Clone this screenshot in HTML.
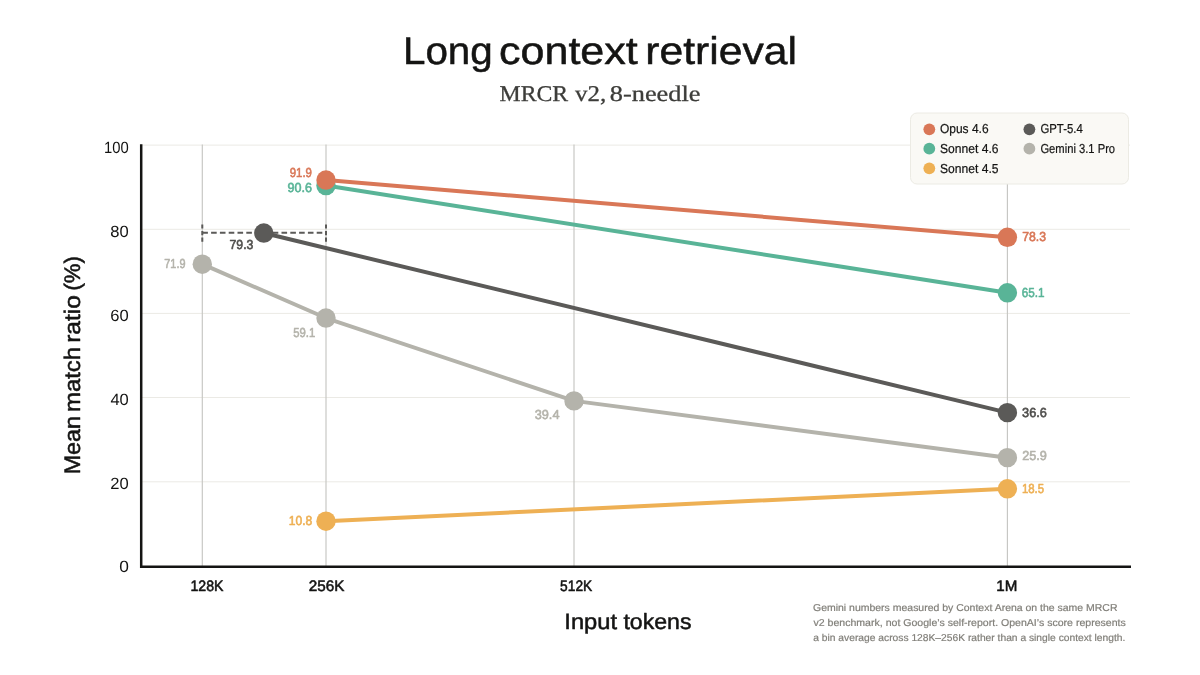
<!DOCTYPE html>
<html lang="en">
<head>
<meta charset="utf-8">
<title>Long context retrieval</title>
<style>
html,body{margin:0;padding:0;background:#fff;}
body{width:1200px;height:675px;overflow:hidden;position:relative;font-family:"Liberation Sans",sans-serif;}
svg{position:absolute;left:0;top:0;display:block;}
text{font-family:"Liberation Sans",sans-serif;text-rendering:geometricPrecision;}
text.serif{font-family:"Liberation Serif",serif;}
</style>
</head>
<body>
<svg width="1200" height="675" viewBox="0 0 1200 675">
  <rect width="1200" height="675" fill="#ffffff"/>
  <!-- grid -->
  <g stroke="#ebeae5" stroke-width="1" fill="none">
    <line x1="141" y1="145.1" x2="1130" y2="145.1"/>
    <line x1="141" y1="229.3" x2="1130" y2="229.3"/>
    <line x1="141" y1="313.4" x2="1130" y2="313.4"/>
    <line x1="141" y1="397.5" x2="1130" y2="397.5"/>
    <line x1="141" y1="481.8" x2="1130" y2="481.8"/>
  </g>
  <g stroke="#c6c6c3" stroke-width="1.15" fill="none">
    <line x1="202.3" y1="144.6" x2="202.3" y2="566"/>
    <line x1="326.0" y1="144.6" x2="326.0" y2="566"/>
    <line x1="574.0" y1="144.6" x2="574.0" y2="566"/>
    <line x1="1007.4" y1="144.6" x2="1007.4" y2="566"/>
  </g>
  <!-- axes -->
  <path d="M141.2 144.3 V566.8 H1131" fill="none" stroke="#141413" stroke-width="2.5"/>
  <!-- series lines -->
  <g fill="none" stroke-width="4" stroke-linecap="round" stroke-linejoin="round">
    <polyline points="326.0,521.18 1007.4,488.79" stroke="#eeb054"/>
    <polyline points="202.3,264.19 326.0,318.03 574.0,400.88 1007.4,457.66" stroke="#b4b3ab"/>
    <polyline points="263.8,233.06 1007.4,412.66" stroke="#5b5a58"/>
    <polyline points="326.0,185.54 1007.4,292.79" stroke="#59b497"/>
    <polyline points="326.0,180.07 1007.4,237.27" stroke="#d97757"/>
  </g>
  <!-- dashed bin range -->
  <g stroke="#5b5a58" stroke-width="2" fill="none">
    <line x1="202.3" y1="232.7" x2="326.0" y2="232.7" stroke-dasharray="5.6 3.2"/>
    <line x1="202.3" y1="224.4" x2="202.3" y2="242" stroke-dasharray="4.2 2.4"/>
    <line x1="326.0" y1="224.4" x2="326.0" y2="242" stroke-dasharray="4.2 2.4"/>
  </g>
  <!-- points -->
  <g>
    <circle cx="326.0" cy="521.18" r="9.7" fill="#eeb054"/>
    <circle cx="1007.4" cy="488.79" r="9.7" fill="#eeb054"/>
    <circle cx="202.3" cy="264.19" r="9.7" fill="#b4b3ab"/>
    <circle cx="326.0" cy="318.03" r="9.7" fill="#b4b3ab"/>
    <circle cx="574.0" cy="400.88" r="9.7" fill="#b4b3ab"/>
    <circle cx="1007.4" cy="457.66" r="9.7" fill="#b4b3ab"/>
    <circle cx="263.8" cy="233.06" r="9.7" fill="#5b5a58"/>
    <circle cx="1007.4" cy="412.66" r="9.7" fill="#5b5a58"/>
    <circle cx="326.0" cy="185.54" r="9.7" fill="#59b497"/>
    <circle cx="1007.4" cy="292.79" r="9.7" fill="#59b497"/>
    <circle cx="326.0" cy="180.07" r="9.7" fill="#d97757"/>
    <circle cx="1007.4" cy="237.27" r="9.7" fill="#d97757"/>
  </g>
  <!-- legend -->
  <rect x="910.5" y="113" width="218" height="71" rx="6.5" ry="6.5" fill="#faf9f5" stroke="#ecebe4" stroke-width="1"/>
  <g>
    <circle cx="929.3" cy="129.3" r="5.9" fill="#d97757"/>
    <circle cx="929.3" cy="148.7" r="5.9" fill="#59b497"/>
    <circle cx="929.3" cy="168.3" r="5.9" fill="#eeb054"/>
    <circle cx="1029.4" cy="129.3" r="5.9" fill="#5b5a58"/>
    <circle cx="1029.4" cy="148.7" r="5.9" fill="#b4b3ab"/>
  </g>
  <!-- text -->
  <text id="t1" x="402.93" y="64" font-size="38.5" fill="#141413" stroke="#141413" stroke-width="0.5" stroke-linejoin="round" textLength="89.86" lengthAdjust="spacingAndGlyphs">Long</text>
  <text id="t2" x="498.98" y="64" font-size="38.5" fill="#141413" stroke="#141413" stroke-width="0.5" stroke-linejoin="round" textLength="138.82" lengthAdjust="spacingAndGlyphs">context</text>
  <text id="t3" x="645.27" y="64" font-size="38.5" fill="#141413" stroke="#141413" stroke-width="0.5" stroke-linejoin="round" textLength="151.72" lengthAdjust="spacingAndGlyphs">retrieval</text>
  <text id="s1" x="499.53" y="101" font-size="22.5" fill="#3d3d3a" stroke="#3d3d3a" stroke-width="0.3" stroke-linejoin="round" class="serif" textLength="68.72" lengthAdjust="spacingAndGlyphs">MRCR</text>
  <text id="s2" x="575.04" y="101" font-size="22.5" fill="#3d3d3a" stroke="#3d3d3a" stroke-width="0.3" stroke-linejoin="round" class="serif" textLength="31.14" lengthAdjust="spacingAndGlyphs">v2,</text>
  <text id="s3" x="609.77" y="101" font-size="22.5" fill="#3d3d3a" stroke="#3d3d3a" stroke-width="0.3" stroke-linejoin="round" class="serif" textLength="90.71" lengthAdjust="spacingAndGlyphs">8-needle</text>
  <text id="y100" x="104.12" y="153" font-size="16.3" fill="#141413" textLength="24.70" lengthAdjust="spacingAndGlyphs">100</text>
  <text id="y80" x="110.38" y="237" font-size="16.3" fill="#141413" textLength="18.43" lengthAdjust="spacingAndGlyphs">80</text>
  <text id="y60" x="110.39" y="321" font-size="16.3" fill="#141413" textLength="18.43" lengthAdjust="spacingAndGlyphs">60</text>
  <text id="y40" x="110.44" y="405" font-size="16.3" fill="#141413" textLength="18.37" lengthAdjust="spacingAndGlyphs">40</text>
  <text id="y20" x="110.39" y="489" font-size="16.3" fill="#141413" textLength="18.43" lengthAdjust="spacingAndGlyphs">20</text>
  <text id="y0" x="119.18" y="572" font-size="16.3" fill="#141413" textLength="9.65" lengthAdjust="spacingAndGlyphs">0</text>
  <text id="x128" x="190.45" y="591" font-size="15.2" fill="#141413" stroke="#141413" stroke-width="0.55" stroke-linejoin="round" textLength="33.11" lengthAdjust="spacingAndGlyphs">128K</text>
  <text id="x256" x="308.85" y="591" font-size="15.2" fill="#141413" stroke="#141413" stroke-width="0.55" stroke-linejoin="round" textLength="35.65" lengthAdjust="spacingAndGlyphs">256K</text>
  <text id="x512" x="560.06" y="591" font-size="15.2" fill="#141413" stroke="#141413" stroke-width="0.55" stroke-linejoin="round" textLength="32.20" lengthAdjust="spacingAndGlyphs">512K</text>
  <text id="x1m" x="996.36" y="591" font-size="15.2" fill="#141413" stroke="#141413" stroke-width="0.55" stroke-linejoin="round" textLength="21.07" lengthAdjust="spacingAndGlyphs">1M</text>
  <text id="ax1" x="564.29" y="629" font-size="22" fill="#141413" stroke="#141413" stroke-width="0.5" stroke-linejoin="round" textLength="52.81" lengthAdjust="spacingAndGlyphs">Input</text>
  <text id="ax2" x="623.45" y="629" font-size="22" fill="#141413" stroke="#141413" stroke-width="0.5" stroke-linejoin="round" textLength="67.99" lengthAdjust="spacingAndGlyphs">tokens</text>
  <text id="v919" x="289.76" y="177" font-size="13" fill="#d97757" stroke="#d97757" stroke-width="0.6" stroke-linejoin="round" textLength="22.19" lengthAdjust="spacingAndGlyphs">91.9</text>
  <text id="v906" x="287.46" y="192" font-size="13" fill="#59b497" stroke="#59b497" stroke-width="0.6" stroke-linejoin="round" textLength="24.49" lengthAdjust="spacingAndGlyphs">90.6</text>
  <text id="v783" x="1022.26" y="241" font-size="13" fill="#d97757" stroke="#d97757" stroke-width="0.6" stroke-linejoin="round" textLength="23.84" lengthAdjust="spacingAndGlyphs">78.3</text>
  <text id="v651" x="1021.80" y="297" font-size="13" fill="#59b497" stroke="#59b497" stroke-width="0.6" stroke-linejoin="round" textLength="22.80" lengthAdjust="spacingAndGlyphs">65.1</text>
  <text id="v366" x="1022.05" y="417" font-size="13" fill="#4f4e4c" stroke="#4f4e4c" stroke-width="0.6" stroke-linejoin="round" textLength="24.84" lengthAdjust="spacingAndGlyphs">36.6</text>
  <text id="v259" x="1022.15" y="460" font-size="13" fill="#b4b3ab" stroke="#b4b3ab" stroke-width="0.6" stroke-linejoin="round" textLength="24.76" lengthAdjust="spacingAndGlyphs">25.9</text>
  <text id="v185" x="1021.90" y="493" font-size="13" fill="#eeb054" stroke="#eeb054" stroke-width="0.6" stroke-linejoin="round" textLength="22.20" lengthAdjust="spacingAndGlyphs">18.5</text>
  <text id="v108" x="288.75" y="525" font-size="13" fill="#eeb054" stroke="#eeb054" stroke-width="0.6" stroke-linejoin="round" textLength="23.50" lengthAdjust="spacingAndGlyphs">10.8</text>
  <text id="v793" x="229.50" y="249" font-size="13" fill="#4f4e4c" stroke="#4f4e4c" stroke-width="0.6" stroke-linejoin="round" textLength="23.89" lengthAdjust="spacingAndGlyphs">79.3</text>
  <text id="v719" x="164.30" y="268" font-size="13" fill="#b4b3ab" stroke="#b4b3ab" stroke-width="0.6" stroke-linejoin="round" textLength="21.15" lengthAdjust="spacingAndGlyphs">71.9</text>
  <text id="v591" x="293.20" y="337" font-size="13" fill="#b4b3ab" stroke="#b4b3ab" stroke-width="0.6" stroke-linejoin="round" textLength="22.05" lengthAdjust="spacingAndGlyphs">59.1</text>
  <text id="v394" x="534.70" y="419" font-size="13" fill="#b4b3ab" stroke="#b4b3ab" stroke-width="0.6" stroke-linejoin="round" textLength="24.80" lengthAdjust="spacingAndGlyphs">39.4</text>
  <text id="l1" x="939.90" y="133" font-size="13" fill="#141413" stroke="#141413" stroke-width="0.2" stroke-linejoin="round" textLength="48.70" lengthAdjust="spacingAndGlyphs">Opus 4.6</text>
  <text id="l2" x="939.90" y="153" font-size="13" fill="#141413" stroke="#141413" stroke-width="0.2" stroke-linejoin="round" textLength="58.60" lengthAdjust="spacingAndGlyphs">Sonnet 4.6</text>
  <text id="l3" x="939.90" y="173" font-size="13" fill="#141413" stroke="#141413" stroke-width="0.2" stroke-linejoin="round" textLength="58.60" lengthAdjust="spacingAndGlyphs">Sonnet 4.5</text>
  <text id="l4" x="1040.41" y="133" font-size="13" fill="#141413" stroke="#141413" stroke-width="0.2" stroke-linejoin="round" textLength="42.39" lengthAdjust="spacingAndGlyphs">GPT-5.4</text>
  <text id="l5" x="1040.41" y="153" font-size="13" fill="#141413" stroke="#141413" stroke-width="0.2" stroke-linejoin="round" textLength="74.69" lengthAdjust="spacingAndGlyphs">Gemini 3.1 Pro</text>
  <text id="f1" x="813.00" y="611" font-size="10" fill="#807f79" stroke="#807f79" stroke-width="0.2" stroke-linejoin="round" textLength="304.50" lengthAdjust="spacingAndGlyphs">Gemini numbers measured by Context Arena on the same MRCR</text>
  <text id="f2" x="813.50" y="626" font-size="10" fill="#807f79" stroke="#807f79" stroke-width="0.2" stroke-linejoin="round" textLength="312.25" lengthAdjust="spacingAndGlyphs">v2 benchmark, not Google’s self-report. OpenAI’s score represents</text>
  <text id="f3" x="813.25" y="641" font-size="10" fill="#807f79" stroke="#807f79" stroke-width="0.2" stroke-linejoin="round" textLength="312.15" lengthAdjust="spacingAndGlyphs">a bin average across 128K–256K rather than a single context length.</text>
  <g transform="translate(80.35 0) rotate(-90)">
    <text id="ay1" x="-474.36" y="0" font-size="22.5" fill="#141413" stroke="#141413" stroke-width="0.5" stroke-linejoin="round" textLength="58.44" lengthAdjust="spacingAndGlyphs">Mean</text>
    <text id="ay2" x="-412.04" y="0" font-size="22.5" fill="#141413" stroke="#141413" stroke-width="0.5" stroke-linejoin="round" textLength="65.17" lengthAdjust="spacingAndGlyphs">match</text>
    <text id="ay3" x="-342.84" y="0" font-size="22.5" fill="#141413" stroke="#141413" stroke-width="0.5" stroke-linejoin="round" textLength="47.81" lengthAdjust="spacingAndGlyphs">ratio</text>
    <text id="ay4" x="-290.56" y="0" font-size="22.5" fill="#141413" stroke="#141413" stroke-width="0.5" stroke-linejoin="round" textLength="34.43" lengthAdjust="spacingAndGlyphs">(%)</text>
  </g>
</svg>
</body>
</html>
